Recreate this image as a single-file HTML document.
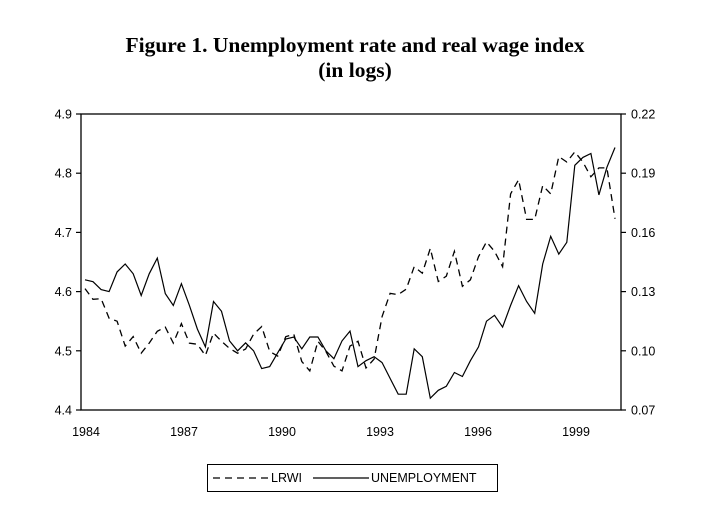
<!DOCTYPE html>
<html><head><meta charset="utf-8"><style>
html,body{margin:0;padding:0;background:#fff;}
svg{display:block;}
text{font-family:"Liberation Sans",sans-serif;}
</style></head><body>
<svg id="chart" width="706" height="518" viewBox="0 0 706 518">
<text x="355" y="52" text-anchor="middle" style="font-family:'Liberation Serif',serif;font-weight:bold;font-size:21.5px">Figure 1. Unemployment rate and real wage index</text>
<text x="355" y="77" text-anchor="middle" style="font-family:'Liberation Serif',serif;font-weight:bold;font-size:21.5px">(in logs)</text>
<rect x="81" y="114" width="540" height="296" fill="none" stroke="#000" stroke-width="1.3"/>
<g id="axes"></g>
<g id="series"></g>
<g>
<rect x="207.5" y="464.5" width="290" height="27" fill="#fff" stroke="#000" stroke-width="1"/>
<line x1="213" y1="478" x2="271" y2="478" stroke="#000" stroke-width="1.2" stroke-dasharray="7,5"/>
<text x="271" y="482" font-size="12.5">LRWI</text>
<line x1="313" y1="478" x2="369" y2="478" stroke="#000" stroke-width="1.2"/>
<text x="371" y="482" font-size="12.5">UNEMPLOYMENT</text>
</g>
</svg>
<script>
const xLabels = ["1984","1987","1990","1993","1996","1999"];
const leftTicks = [4.4,4.5,4.6,4.7,4.8,4.9];
const leftTickLabels = ["4.4","4.5","4.6","4.7","4.8","4.9"];
const rightTicks = [0.07,0.10,0.13,0.16,0.19,0.22];
const rightTickLabels = ["0.07","0.10","0.13","0.16","0.19","0.22"];
const lrwi = [4.605,4.587,4.588,4.555,4.550,4.508,4.524,4.496,4.513,4.533,4.540,4.513,4.546,4.513,4.511,4.492,4.530,4.516,4.504,4.496,4.503,4.528,4.541,4.499,4.491,4.524,4.528,4.482,4.466,4.516,4.499,4.474,4.466,4.508,4.516,4.471,4.486,4.558,4.597,4.595,4.604,4.642,4.631,4.673,4.617,4.626,4.668,4.609,4.620,4.659,4.684,4.668,4.642,4.765,4.789,4.722,4.722,4.779,4.765,4.828,4.819,4.836,4.819,4.794,4.809,4.809,4.723];
const unemployment = [0.136,0.135,0.131,0.130,0.140,0.144,0.139,0.128,0.139,0.147,0.129,0.123,0.134,0.123,0.111,0.102,0.125,0.120,0.105,0.100,0.104,0.100,0.091,0.092,0.099,0.106,0.107,0.101,0.107,0.107,0.100,0.096,0.105,0.110,0.092,0.095,0.097,0.094,0.086,0.078,0.078,0.101,0.097,0.076,0.080,0.082,0.089,0.087,0.095,0.102,0.115,0.118,0.112,0.123,0.133,0.125,0.119,0.144,0.158,0.149,0.155,0.194,0.198,0.200,0.179,0.193,0.203];
const NS="http://www.w3.org/2000/svg";
const plotTop=114,plotBot=410;
function yL(v){return plotBot-(v-4.4)/0.5*(plotBot-plotTop);}
function yR(v){return plotBot-(v-0.07)/0.15*(plotBot-plotTop);}
function xI(i){return 85+i*8.03;}
function xLab(i){return 86+i*98;}
const axes=document.getElementById('axes');
function mk(tag,attrs,parent){const e=document.createElementNS(NS,tag);for(const k in attrs)e.setAttribute(k,attrs[k]);parent.appendChild(e);return e;}
leftTicks.forEach((v,i)=>{
  const y=yL(v);
  const t=mk('line',{x1:76,x2:81,y1:y,y2:y,stroke:'#000','stroke-width':1.2},axes);
  
  
  const tx=mk('text',{x:72,y:y+4.5,'text-anchor':'end','font-size':12.5},axes);
  tx.textContent=leftTickLabels[i];
  
  
});
rightTicks.forEach((v,i)=>{
  const y=yR(v);
  const t=mk('line',{x1:621,x2:626,y1:y,y2:y,stroke:'#000','stroke-width':1.2},axes);
  
  
  const tx=mk('text',{x:631,y:y+4.5,'font-size':12.5},axes);
  tx.textContent=rightTickLabels[i];
  
  
});
xLabels.forEach((l,i)=>{
  const tx=mk('text',{x:xLab(i),y:436,'text-anchor':'middle','font-size':12.5},axes);
  tx.textContent=l;
  
  
});
const g=document.getElementById('series');
const p1=mk('polyline',{points:lrwi.map((v,i)=>xI(i).toFixed(1)+','+yL(v).toFixed(1)).join(' '),fill:'none',stroke:'#000','stroke-width':1.3,'stroke-dasharray':'7,5'},g);


const p2=mk('polyline',{points:unemployment.map((v,i)=>xI(i).toFixed(1)+','+yR(v).toFixed(1)).join(' '),fill:'none',stroke:'#000','stroke-width':1.2},g);


</script>
</body></html>
